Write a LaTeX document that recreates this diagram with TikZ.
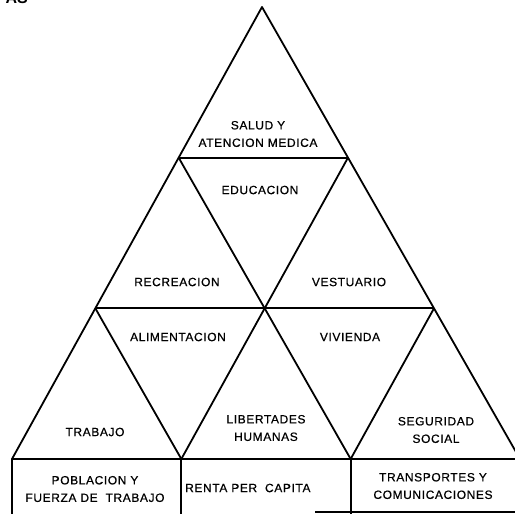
\documentclass[tikz,border=0pt]{standalone}
\usepackage{fontspec}
\setmainfont{Liberation Sans}
\usetikzlibrary{calc}

\begin{document}
\begin{tikzpicture}[
    x=1pt, y=-1pt,
    edge/.style={line width=1.8pt, line join=round},
    lbl/.style={font=\fontsize{12}{17.5}\selectfont\addfontfeature{LetterSpace=5, FakeBold=0.6}, align=center, inner sep=0pt}
]
\useasboundingbox (0,0) rectangle (515,514);

% Corners of the big triangle
\coordinate (top) at (262,7);
\coordinate (bl) at (12,459);
\coordinate (br) at (520,459);

% Points on the sides and on the base
\coordinate (p1l) at ($(top)!1/3!(bl)$);
\coordinate (p1r) at ($(top)!1/3!(br)$);
\coordinate (p2l) at ($(top)!2/3!(bl)$);
\coordinate (p2r) at ($(top)!2/3!(br)$);
\coordinate (p2m) at ($(p2l)!1/2!(p2r)$);
\coordinate (b1) at ($(bl)!1/3!(br)$);
\coordinate (b2) at ($(bl)!2/3!(br)$);

% Foot of the boxes
\coordinate (bl0) at ($(bl)+(0,55)$);
\coordinate (b10) at ($(b1)+(0,55)$);
\coordinate (b20) at ($(b2)+(0,55)$);
\coordinate (f1) at (315,512);
\coordinate (f2) at (515,512);

% Outline
\draw[edge] (bl) -- (top) -- (br) -- cycle;

% Rows
\draw[edge] (p1l) -- (p1r);
\draw[edge] (p2l) -- (p2r);

% Slanted lines
\draw[edge] (p1l) -- (b2);
\draw[edge] (p1r) -- (b1);
\draw[edge] (p2l) -- (b1);
\draw[edge] (p2r) -- (b2);

% Boxes under the base
\draw[edge] (bl) -- (bl0);
\draw[edge] (b1) -- (b10);
\draw[edge] (b2) -- (b20);
\draw[edge] (f1) -- (f2);

% Cut heading
\node[font=\fontsize{16}{16}\selectfont\bfseries, anchor=base east, inner sep=0pt] (head) at (28,4) {AS};

% Labels
\node[lbl] (salud) at (258,134) {SALUD Y\\ATENCION MEDICA};
\node[lbl] (educacion) at (260,190) {EDUCACION};
\node[lbl] (recreacion) at (177,282) {RECREACION};
\node[lbl] (vestuario) at (349,282) {VESTUARIO};
\node[lbl] (alimentacion) at (178,337) {ALIMENTACION};
\node[lbl] (vivienda) at (350,337) {VIVIENDA};
\node[lbl] (trabajo) at (95,432) {TRABAJO};
\node[lbl] (libertades) at (266,428) {LIBERTADES\\HUMANAS};
\node[lbl] (seguridad) at (436,430) {SEGURIDAD\\SOCIAL};
\node[lbl] (poblacion) at (95,489) {POBLACION Y\\FUERZA DE\ \ TRABAJO};
\node[lbl, anchor=west] (renta) at (185,488) {RENTA PER\ \ CAPITA};
\node[lbl] (transportes) at (433,486) {TRANSPORTES Y\\COMUNICACIONES};

\end{tikzpicture}
\end{document}
